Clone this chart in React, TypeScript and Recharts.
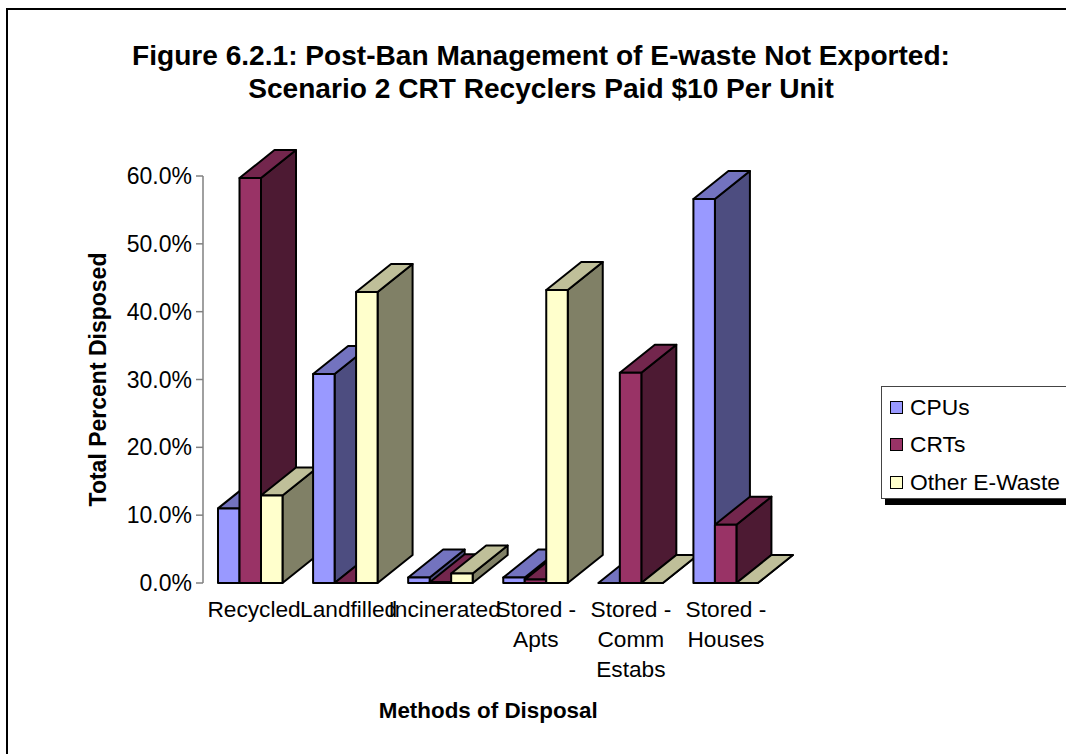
import { BarChart, Bar, XAxis, YAxis } from 'recharts';

const CATEGORIES = ['Recycled', 'Landfilled', 'Incinerated', 'Stored -\nApts', 'Stored -\nComm\nEstabs', 'Stored -\nHouses'];
const CPUS = [11.0, 30.8, 0.8, 0.8, 0.0, 56.6];
const CRTS = [59.7, 0.0, 0.1, 0.5, 31.0, 8.6];
const OTHER_EWASTE = [12.9, 42.9, 1.4, 43.2, 0.0, 0.0];
const Y_TICKS = [0, 10, 20, 30, 40, 50, 60];

const SERIES = [
  { name: 'CPUs', values: CPUS, front: '#9999ff', top: '#7373bf', side: '#4d4d80' },
  { name: 'CRTs', values: CRTS, front: '#993366', top: '#73264d', side: '#4d1a33' },
  { name: 'Other E-Waste', values: OTHER_EWASTE, front: '#ffffcc', top: '#bfbf99', side: '#808066' },
];

const FONT = '"Liberation Sans", Arial, sans-serif';
const DEPTH_X = 35;
const DEPTH_Y = 28;
// long single-line labels sit a little right of their tick
const TICK_NUDGE = [3.5, 3, 4, 0, 0, 0];

// one row per category, one key per bar, so bars paint category by category
const rows = CATEGORIES.map((category, i) => {
  const row: Record<string, any> = { category };
  SERIES.forEach((s) => {
    row[`${s.name}:${i}`] = s.values[i];
  });
  return row;
});

function makeBox(catIndex: number, s: typeof SERIES[number]) {
  return function Box(props: any) {
    if (props.index !== catIndex) return null;
    const { x, y, width, height } = props;
    const r = x + width;
    const b = y + height;
    const topFace = `${x},${y} ${x + DEPTH_X},${y - DEPTH_Y} ${r + DEPTH_X},${y - DEPTH_Y} ${r},${y}`;
    const sideFace = `${r},${y} ${r + DEPTH_X},${y - DEPTH_Y} ${r + DEPTH_X},${b - DEPTH_Y} ${r},${b}`;
    return (
      <g stroke="#000" strokeWidth={2} strokeLinejoin="round">
        <polygon points={sideFace} fill={s.side} />
        <polygon points={topFace} fill={s.top} />
        <rect x={x} y={y} width={width} height={height} fill={s.front} />
      </g>
    );
  };
}

function CategoryTick({ x, y, payload, index }: any) {
  const lines = String(payload.value).split('\n');
  const cx = x + TICK_NUDGE[index];
  return (
    <text x={cx} y={y} textAnchor="middle" fontSize={22.7} fontFamily={FONT} fill="#000">
      {lines.map((line, i) => (
        <tspan key={i} x={cx} y={y + 26 + i * 30}>
          {line}
        </tspan>
      ))}
    </text>
  );
}

function LegendBox() {
  return (
    <>
      <div style={{ position: 'absolute', left: 885, top: 391, width: 181, height: 114, background: '#000' }} />
      <div style={{ position: 'absolute', left: 881, top: 386, width: 190, height: 113, background: '#fff', border: '1px solid #444', boxSizing: 'border-box' }}>
        {SERIES.map((s, i) => (
          <div key={s.name} style={{ position: 'absolute', left: 8, top: 8 + i * 37.5, height: 24, display: 'flex', alignItems: 'center' }}>
            <span style={{ width: 11, height: 11, background: s.front, border: '1.5px solid #000', display: 'inline-block', marginRight: 7 }} />
            <span style={{ fontSize: 22.8, fontFamily: FONT, whiteSpace: 'nowrap' }}>{s.name}</span>
          </div>
        ))}
      </div>
    </>
  );
}

export default function App() {
  return (
    <div style={{ position: 'absolute', left: 0, top: 0, width: 1066, height: 754, overflow: 'hidden', background: '#fff' }}>
      <div style={{ position: 'absolute', left: 6, top: 8, width: 1070, height: 760, borderLeft: '2px solid #000', borderTop: '2px solid #000', boxSizing: 'border-box' }} />
      <div style={{ position: 'absolute', left: 0, top: 39, width: 1082, textAlign: 'center', fontFamily: FONT, fontWeight: 'bold', fontSize: 28.1, lineHeight: '33px' }}>
        Figure 6.2.1: Post-Ban Management of E-waste Not Exported:
        <br />
        Scenario 2 CRT Recyclers Paid $10 Per Unit
      </div>
      <div style={{ position: 'absolute', left: 0, top: 0 }}>
        <BarChart width={1066} height={754} data={rows} margin={{ top: 176, right: 292.5, bottom: 0, left: 83 }} barGap={0} barSize={21.5}>
          <XAxis
            dataKey="category"
            interval={0}
            axisLine={false}
            tickLine={false}
            tick={<CategoryTick />}
            height={171}
            label={{ value: 'Methods of Disposal', position: 'insideBottom', offset: 36, fontSize: 22.4, fontWeight: 'bold', fontFamily: FONT, fill: '#000' }}
          />
          <YAxis
            width={120}
            domain={[0, 60]}
            ticks={Y_TICKS}
            tickFormatter={(v: number) => `${v.toFixed(1)}%`}
            tick={{ fontSize: 23, fontFamily: FONT, fill: '#000' }}
            tickSize={7}
            tickMargin={4}
            stroke="#808080"
            strokeWidth={1.5}
            label={{ value: 'Total Percent Disposed', angle: -90, position: 'insideLeft', offset: 15, fontSize: 23, fontWeight: 'bold', fontFamily: FONT, fill: '#000', style: { textAnchor: 'middle' } }}
          />
          {CATEGORIES.map((_, i) =>
            SERIES.map((s) => (
              <Bar key={`${s.name}:${i}`} dataKey={`${s.name}:${i}`} stackId={s.name} shape={makeBox(i, s)} isAnimationActive={false} />
            ))
          )}
        </BarChart>
      </div>
      <LegendBox />
    </div>
  );
}
